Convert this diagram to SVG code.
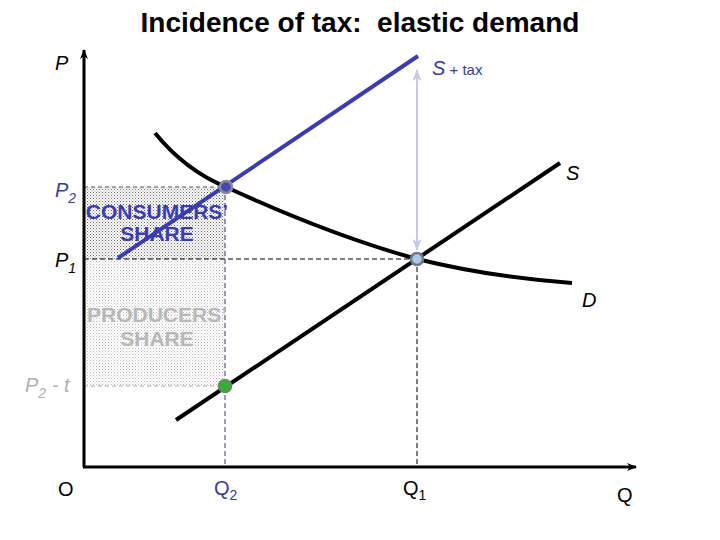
<svg xmlns="http://www.w3.org/2000/svg" width="720" height="540" viewBox="0 0 720 540">
<style>
.lbl{font-family:"Liberation Sans",Arial,sans-serif;}
.it{font-style:italic;}
.share{font-family:"Liberation Sans",Arial,sans-serif;font-weight:bold;font-size:21px;text-anchor:middle;}
</style>
<defs>
<pattern id="pc" width="3" height="3" patternUnits="userSpaceOnUse">
<rect width="3" height="3" fill="#ffffff"/>
<rect x="0" y="0" width="1" height="1" fill="#666"/>
<rect x="1.5" y="1.5" width="1" height="1" fill="#888"/>
</pattern>
<pattern id="pp" width="3" height="3" patternUnits="userSpaceOnUse">
<rect width="3" height="3" fill="#ffffff"/>
<rect x="0" y="0" width="1" height="1" fill="#b8b8b8"/>
<rect x="1.5" y="1.5" width="1" height="1" fill="#cccccc"/>
</pattern>
<marker id="ax" markerWidth="10" markerHeight="8" refX="9" refY="4" orient="auto" markerUnits="userSpaceOnUse">
<path d="M0,0 L10,4 L0,8 L3,4 z" fill="#000"/>
</marker>
<marker id="la" markerWidth="12" markerHeight="10" refX="11" refY="5" orient="auto-start-reverse" markerUnits="userSpaceOnUse">
<path d="M0,0.5 L12,5 L0,9.5 L3,5 z" fill="#c8c8e6"/>
</marker>
</defs>
<rect width="720" height="540" fill="#fff"/>
<g id="areas">
<rect x="84" y="187" width="141" height="72" fill="url(#pc)"/>
<rect x="84" y="259" width="141" height="127" fill="url(#pp)"/>
</g>
<g id="title"><text class="lbl" x="360" y="32" font-size="28" font-weight="bold" text-anchor="middle" xml:space="preserve" style="white-space:pre">Incidence of tax:  elastic demand</text></g>
<g id="connectors">
<line x1="84" y1="187" x2="226" y2="187" stroke="#555" stroke-width="1" stroke-dasharray="4,3"/>
<line x1="84" y1="259" x2="417" y2="259" stroke="#000" stroke-width="1" stroke-dasharray="5,3"/>
<line x1="84" y1="386" x2="225" y2="386" stroke="#aaa" stroke-width="1" stroke-dasharray="4,3"/>
<line x1="225" y1="187" x2="225" y2="467" stroke="#3a3a60" stroke-width="1" stroke-dasharray="5,3"/>
<line x1="417" y1="259" x2="417" y2="467" stroke="#000" stroke-width="1" stroke-dasharray="5,3"/>
<line x1="417" y1="70" x2="417" y2="250" stroke="#c8c8e6" stroke-width="2" marker-start="url(#la)" marker-end="url(#la)"/>
<line x1="84" y1="467" x2="84" y2="50" stroke="#000" stroke-width="3" marker-end="url(#ax)"/>
<line x1="83" y1="467" x2="636" y2="467" stroke="#000" stroke-width="3" marker-end="url(#ax)"/>
<path d="M155,133 Q185,170 226,187 Q330,235 417,259 Q490,277 572,283" fill="none" stroke="#000" stroke-width="4"/>
<line x1="176" y1="420" x2="560" y2="163" stroke="#000" stroke-width="4"/>
<line x1="118" y1="258" x2="418" y2="56" stroke="#3c3cb0" stroke-width="4"/>
</g>
<g id="points">
<circle cx="226" cy="187" r="6" fill="#4848a8" stroke="#8888a0" stroke-width="2.5"/>
<circle cx="417" cy="259" r="6" fill="#a8c8ec" stroke="#707880" stroke-width="2.5"/>
<circle cx="225" cy="386" r="6" fill="#30b030" stroke="#609060" stroke-width="2.5"/>
</g>
<g id="labels">
<text class="lbl it" x="55" y="70" font-size="20">P</text>
<text class="lbl it" x="55" y="197" font-size="20" fill="#3c3c98">P<tspan font-size="14" dy="6">2</tspan></text>
<text class="lbl it" x="55" y="267" font-size="20">P<tspan font-size="14" dy="6">1</tspan></text>
<text class="lbl it" x="25" y="392" font-size="20" fill="#b0b0b0">P<tspan font-size="14" dy="6">2</tspan><tspan dy="-6"> - t</tspan></text>
<text class="lbl it" x="432" y="75" font-size="20" fill="#3c3c98">S<tspan font-style="normal" font-size="15"> + tax</tspan></text>
<text class="lbl it" x="566" y="180" font-size="20">S</text>
<text class="lbl it" x="582" y="307" font-size="20">D</text>
<text class="lbl" x="58" y="496" font-size="20">O</text>
<text class="lbl" x="214" y="495" font-size="20" fill="#3c3c98">Q<tspan font-size="14" dy="5">2</tspan></text>
<text class="lbl" x="403" y="495" font-size="20">Q<tspan font-size="14" dy="5">1</tspan></text>
<text class="lbl" x="617" y="502" font-size="20">Q</text>
<text class="share" x="157" y="219" fill="#3c3cb0">CONSUMERS’</text>
<text class="share" x="157" y="241" fill="#3c3cb0">SHARE</text>
<text class="share" x="157" y="322" fill="#b8b8b8">PRODUCERS’</text>
<text class="share" x="157" y="346" fill="#b8b8b8">SHARE</text>
</g>
</svg>
